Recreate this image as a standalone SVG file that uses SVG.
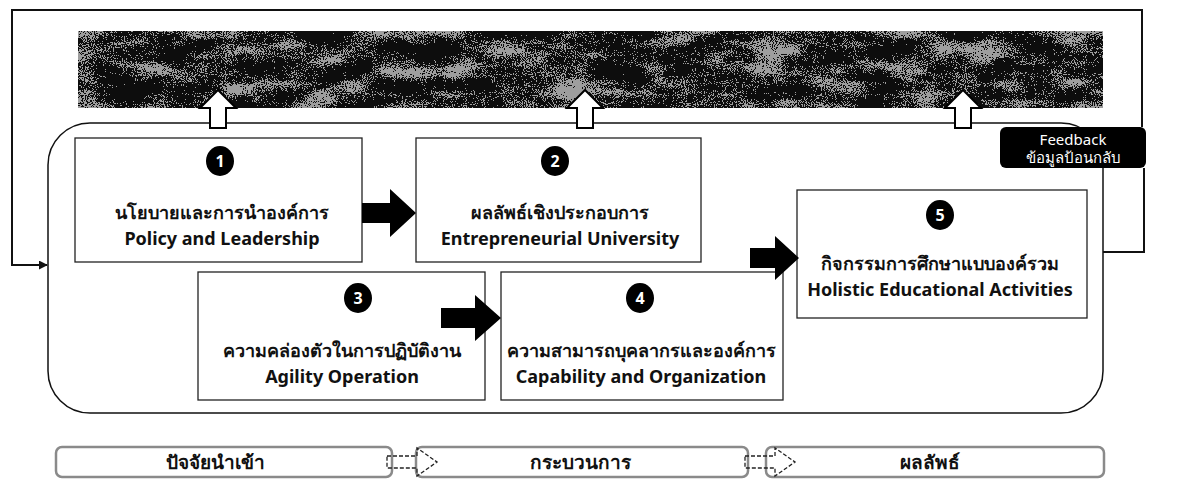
<svg xmlns="http://www.w3.org/2000/svg" width="1188" height="479" viewBox="0 0 1188 479">
<style>
  .box{fill:#fff;stroke:#222;stroke-width:1.3}
  .th{font-family:"Noto Sans",sans-serif;font-size:18px;font-weight:bold;fill:#111;text-anchor:middle}
  .en{font-family:"Noto Sans",sans-serif;font-size:18px;font-weight:bold;fill:#111;text-anchor:middle}
  .num{font-family:"Noto Sans",sans-serif;font-size:16px;font-weight:bold;fill:#fff;text-anchor:middle}
  .line{fill:none;stroke:#111;stroke-width:2}
  .blk{fill:#000}
  .hollow{fill:#fff;stroke:#000;stroke-width:2}
  .stage{fill:none;stroke:#8a8a8a;stroke-width:2.5}
  .stxt{font-family:"Noto Sans",sans-serif;font-size:19px;font-weight:600;fill:#111;text-anchor:middle}
  .dash{fill:none;stroke:#222;stroke-width:1.3;stroke-dasharray:4 2}
  .fb{font-family:"Noto Sans",sans-serif;font-size:15px;fill:#fff;text-anchor:middle}
</style>
<defs>
  <marker id="ah" viewBox="0 0 10 10" refX="9" refY="5" markerWidth="9" markerHeight="9" orient="auto" markerUnits="userSpaceOnUse">
    <path d="M0,0 L10,5 L0,10 z" fill="#111"/>
  </marker>
  <filter id="grain" x="0" y="0" width="100%" height="100%" color-interpolation-filters="sRGB">
    <feTurbulence type="fractalNoise" baseFrequency="0.9" numOctaves="1" seed="4" result="f0"/>
    <feColorMatrix in="f0" type="matrix" values="1 0 0 0 0  1 0 0 0 0  1 0 0 0 0  0 0 0 0 1" result="fine"/>
    <feTurbulence type="fractalNoise" baseFrequency="0.02 0.05" numOctaves="3" seed="11" result="c0"/>
    <feColorMatrix in="c0" type="matrix" values="1 0 0 0 0  1 0 0 0 0  1 0 0 0 0  0 0 0 0 1" result="coarse"/>
    <feComposite in="fine" in2="coarse" operator="arithmetic" k1="0" k2="1.8" k3="1.5" k4="-1.3" result="mix"/>
    <feColorMatrix in="mix" type="matrix" values="0 0 0 0 0.62  0 0 0 0 0.62  0 0 0 0 0.62  1 0 0 0 0" result="a"/>
    <feComponentTransfer in="a"><feFuncA type="discrete" tableValues="0 1"/></feComponentTransfer>
  </filter>
</defs>

<!-- banner -->
<g id="banner">
  <rect x="78" y="31" width="1025" height="77" fill="#0d0d0d"/>
  <rect x="78" y="31" width="1025" height="77" fill="#888" filter="url(#grain)"/>
</g>

<!-- main container -->
<g id="container">
  <rect x="48" y="123" width="1055" height="290" rx="42" fill="#fff" stroke="#111" stroke-width="1.5"/>
</g>

<g id="node1">
  <rect class="box" x="75" y="138" width="287" height="124"/>
  <ellipse cx="220" cy="161" rx="14" ry="15" fill="#000"/>
  <text class="num" x="220" y="167">1</text>
  <text class="th" x="222" y="219">นโยบายและการนำองค์การ</text>
  <text class="en" x="222" y="245">Policy and Leadership</text>
</g>

<g id="node2">
  <rect class="box" x="416" y="138" width="285" height="124"/>
  <ellipse cx="555" cy="161" rx="14" ry="15" fill="#000"/>
  <text class="num" x="555" y="167">2</text>
  <text class="th" x="560" y="219">ผลลัพธ์เชิงประกอบการ</text>
  <text class="en" x="560" y="245">Entrepreneurial University</text>
</g>

<g id="node3">
  <rect class="box" x="198" y="272" width="287" height="128"/>
  <ellipse cx="358" cy="298" rx="14" ry="15" fill="#000"/>
  <text class="num" x="358" y="304">3</text>
  <text class="th" x="342" y="357">ความคล่องตัวในการปฏิบัติงาน</text>
  <text class="en" x="342" y="383">Agility Operation</text>
</g>

<g id="node4">
  <rect class="box" x="501" y="272" width="282" height="128"/>
  <ellipse cx="640" cy="298" rx="14" ry="15" fill="#000"/>
  <text class="num" x="640" y="304">4</text>
  <text class="th" x="641" y="357">ความสามารถบุคลากรและองค์การ</text>
  <text class="en" x="641" y="383">Capability and Organization</text>
</g>

<g id="node5">
  <rect class="box" x="797" y="190" width="290" height="128"/>
  <ellipse cx="940" cy="215" rx="14" ry="15" fill="#000"/>
  <text class="num" x="940" y="221">5</text>
  <text class="th" x="940" y="270">กิจกรรมการศึกษาแบบองค์รวม</text>
  <text class="en" x="940" y="296">Holistic Educational Activities</text>
</g>

<g id="stage1">
  <rect class="stage" x="56" y="447" width="336" height="30" rx="6"/>
  <text class="stxt" x="215" y="469">ปัจจัยนำเข้า</text>
</g>
<g id="stage2">
  <rect class="stage" x="416" y="447" width="332" height="30" rx="6"/>
  <text class="stxt" x="580" y="469">กระบวนการ</text>
</g>
<g id="stage3">
  <rect class="stage" x="766" y="447" width="338" height="30" rx="6"/>
  <text class="stxt" x="930" y="469">ผลลัพธ์</text>
</g>

<g id="connectors">
  <!-- feedback loop -->
  <path class="line" d="M1142,127 V10 H12 V265 H47" marker-end="url(#ah)"/>
  <path class="line" d="M1144,168 V252 H1103"/>
  <!-- hollow up arrows -->
  <path class="hollow" d="M210,128 V108 H200 L218,90 L236,108 H226 V128 Z"/>
  <path class="hollow" d="M577,128 V108 H567 L585,90 L603,108 H593 V128 Z"/>
  <path class="hollow" d="M955,128 V108 H945 L963,90 L981,108 H971 V128 Z"/>
  <!-- block arrows -->
  <path class="blk" d="M362,203 H390 V189 L416,213 L390,237 V223 H362 Z"/>
  <path class="blk" d="M441,308 H475 V295 L501,318 L475,341 V328 H441 Z"/>
  <path class="blk" d="M750,248 H775 V236 L799,258 L775,280 V268 H750 Z"/>
  <!-- dashed stage arrows -->
  <path class="dash" d="M387,456 H417 V448 L437,462 L417,476 V468 H387 Z"/>
  <path class="dash" d="M745,456 H775 V448 L795,462 L775,476 V468 H745 Z"/>
</g>

<g id="feedback">
  <rect x="1000" y="127" width="146" height="41" rx="6" fill="#000"/>
  <text class="fb" x="1073" y="145">Feedback</text>
  <text class="fb" x="1073" y="163">ข้อมูลป้อนกลับ</text>
</g>
</svg>
